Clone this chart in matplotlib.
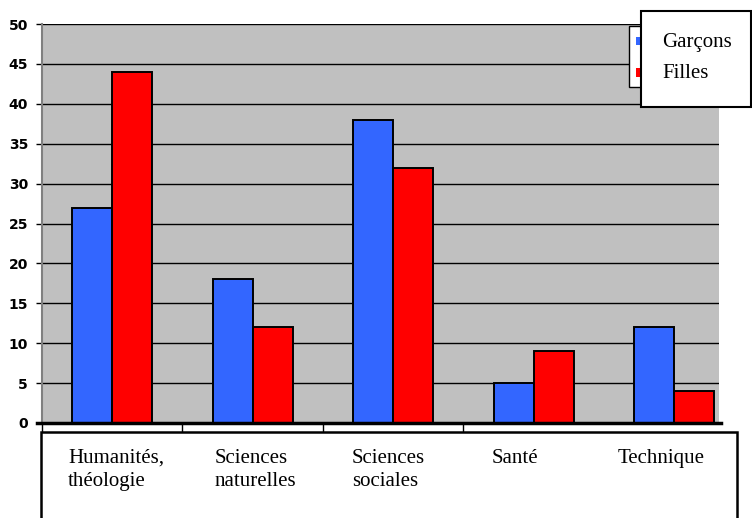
import matplotlib
matplotlib.use("Agg")
import matplotlib.pyplot as plt
from matplotlib.patches import Rectangle
from matplotlib.lines import Line2D
import numpy as np

categories = ["Humanités,\nthéologie", "Sciences\nnaturelles", "Sciences\nsociales", "Santé", "Technique"]
garcons = [27, 18, 38, 5, 12]
filles = [44, 12, 32, 9, 4]
yticks = [0, 5, 10, 15, 20, 25, 30, 35, 40, 45, 50]
series_names = ["Garçons", "Filles"]

W, H = 752, 518
fig = plt.figure(figsize=(W / 100, H / 100), dpi=100)
fig.patch.set_facecolor("white")

def fx(px):
    return px / W

def fy(py):
    return 1 - py / H

ax = fig.add_axes([fx(42), fy(423), fx(719) - fx(42), fy(24) - fy(423)])
ax.set_facecolor("#C0C0C0")

x = np.arange(len(categories))
bw = 0.285
ax.bar(x - bw / 2, garcons, bw, color="#3366FF", edgecolor="black", linewidth=1.4, zorder=3)
ax.bar(x + bw / 2, filles, bw, color="#FF0000", edgecolor="black", linewidth=1.4, zorder=3)

ax.set_ylim(0, 50)
ax.set_xlim(-0.5, 4.32)
ax.set_yticks(yticks)
ax.set_yticklabels([str(v) for v in yticks], fontfamily="DejaVu Sans", fontweight="bold", fontsize=10)
ax.yaxis.grid(True, color="black", linewidth=1.0, zorder=1)
ax.tick_params(axis="y", length=4.5, width=1.0, color="black", pad=5.5)
ax.set_xticks([-0.5, 0.5, 1.5, 2.5])
ax.set_xticklabels([])
ax.tick_params(axis="x", length=7, width=1.0, color="black")
for s in ["top", "right"]:
    ax.spines[s].set_visible(False)
ax.spines["left"].set_color("#808080")
ax.spines["left"].set_linewidth(1.5)
ax.spines["bottom"].set_visible(False)
ax.set_axisbelow(True)

# x-axis thick line
fig.add_artist(Line2D([fx(37), fx(721)], [fy(423), fy(423)], color="black", linewidth=2.5, zorder=10))

# label box
fig.add_artist(Rectangle((fx(41), fy(530)), fx(737) - fx(41), fy(432) - fy(530),
                         facecolor="white", edgecolor="black", linewidth=1.8, zorder=5))
label_x = [68, 215, 352, 492, 618]
for lx, lab in zip(label_x, categories):
    fig.text(fx(lx), fy(449), lab, ha="left", va="top", fontfamily="Liberation Serif",
             fontsize=15, linespacing=1.3, zorder=6)

# legend
fig.add_artist(Rectangle((fx(629), fy(87)), fx(642) - fx(629), fy(26) - fy(87),
                         facecolor="white", edgecolor="black", linewidth=1.0, zorder=5))
fig.add_artist(Rectangle((fx(636), fy(45)), fx(642) - fx(636), fy(37) - fy(45),
                         facecolor="#3366FF", edgecolor="none", zorder=6))
fig.add_artist(Rectangle((fx(636), fy(77)), fx(642) - fx(636), fy(68) - fy(77),
                         facecolor="#FF0000", edgecolor="none", zorder=6))
fig.add_artist(Rectangle((fx(641), fy(107)), fx(751) - fx(641), fy(11) - fy(107),
                         facecolor="white", edgecolor="black", linewidth=1.5, zorder=7))
fig.text(fx(662), fy(47), series_names[0], ha="left", va="baseline", fontfamily="Liberation Serif",
         fontsize=15, zorder=8)
fig.text(fx(662), fy(78), series_names[1], ha="left", va="baseline", fontfamily="Liberation Serif",
         fontsize=15, zorder=8)

fig.savefig("out.png", dpi=100)
